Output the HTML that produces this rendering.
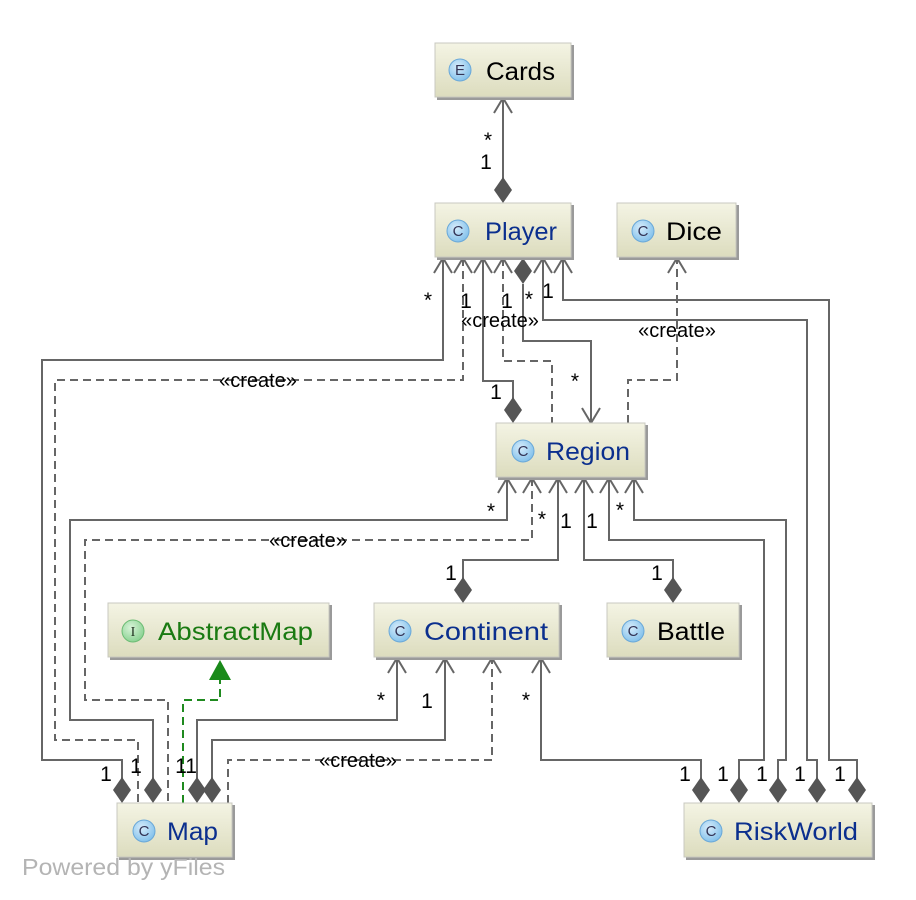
<!DOCTYPE html>
<html><head><meta charset="utf-8"><style>
html,body{margin:0;padding:0;background:#fff;}
svg{display:block;}
.t{font-family:"Liberation Sans",sans-serif;}
</style></head><body>
<svg width="916" height="900" viewBox="0 0 916 900" xmlns="http://www.w3.org/2000/svg">
<defs>
<linearGradient id="g" x1="0" y1="0" x2="0" y2="1">
<stop offset="0" stop-color="#f4f4e4"/><stop offset="1" stop-color="#dcdcbe"/></linearGradient>
<radialGradient id="ic" cx="0.4" cy="0.35" r="0.7"><stop offset="0" stop-color="#d6ecfb"/><stop offset="1" stop-color="#7fbfea"/></radialGradient>
<radialGradient id="ig" cx="0.4" cy="0.35" r="0.7"><stop offset="0" stop-color="#d8f3d8"/><stop offset="1" stop-color="#86d08e"/></radialGradient>
</defs>

<g fill="none" stroke="#666" stroke-width="2">
<path d="M503 98 V190"/>
<path d="M443 258 V360 H42 V760 H122 V790"/>
<path d="M483 258 V381 H513 V410"/>
<path d="M523 284 V341 H591 V423"/>
<path d="M543 258 V320 H807 V760 H817 V790"/>
<path d="M563 258 V300 H829 V760 H857 V790"/>
<path d="M507 478 V520 H70 V720 H153 V790"/>
<path d="M558 478 V560 H463 V590"/>
<path d="M584 478 V560 H673 V590"/>
<path d="M609 478 V540 H764 V760 H739 V790"/>
<path d="M634 478 V520 H786 V760 H778 V790"/>
<path d="M197 790 V720 H397 V658"/>
<path d="M212 790 V740 H445 V658"/>
<path d="M541 658 V760 H701 V790"/>
</g>
<g fill="none" stroke="#666" stroke-width="2" stroke-dasharray="8,5">
<path d="M463 258 V380 H55 V740 H138 V803"/>
<path d="M503 258 V361 H552 V423"/>
<path d="M628 423 V380 H677 V258"/>
<path d="M532 478 V540 H85 V700 H168 V803"/>
<path d="M228 803 V760 H492 V658"/>
</g>
<path d="M183 803 V700 H220 V676" fill="none" stroke="#1f8a1f" stroke-width="2" stroke-dasharray="8,5"/>
<polygon points="209,680 220,660 231,680" fill="#1a8a1a"/>

<g fill="none" stroke="#666" stroke-width="2">
<polyline points="494,113 503,98 512,113"/>
<polyline points="434,273 443,258 452,273"/>
<polyline points="454,273 463,258 472,273"/>
<polyline points="474,273 483,258 492,273"/>
<polyline points="494,273 503,258 512,273"/>
<polyline points="534,273 543,258 552,273"/>
<polyline points="554,273 563,258 572,273"/>
<polyline points="668,273 677,258 686,273"/>
<polyline points="582,408 591,423 600,408"/>
<polyline points="498,493 507,478 516,493"/>
<polyline points="523,493 532,478 541,493"/>
<polyline points="549,493 558,478 567,493"/>
<polyline points="575,493 584,478 593,493"/>
<polyline points="600,493 609,478 618,493"/>
<polyline points="625,493 634,478 643,493"/>
<polyline points="388,673 397,658 406,673"/>
<polyline points="436,673 445,658 454,673"/>
<polyline points="483,673 492,658 501,673"/>
<polyline points="532,673 541,658 550,673"/>
</g>

<g fill="#555">
<polygon points="503,203 494,190 503,177 512,190"/>
<polygon points="523,258 532,271 523,284 514,271"/>
<polygon points="513,423 504,410 513,397 522,410"/>
<polygon points="463,603 454,590 463,577 472,590"/>
<polygon points="673,603 664,590 673,577 682,590"/>
<polygon points="122,803 113,790 122,777 131,790"/>
<polygon points="153,803 144,790 153,777 162,790"/>
<polygon points="197,803 188,790 197,777 206,790"/>
<polygon points="212,803 203,790 212,777 221,790"/>
<polygon points="701,803 692,790 701,777 710,790"/>
<polygon points="739,803 730,790 739,777 748,790"/>
<polygon points="778,803 769,790 778,777 787,790"/>
<polygon points="817,803 808,790 817,777 826,790"/>
<polygon points="857,803 848,790 857,777 866,790"/>
</g>

<g class="t">
<g>
<rect x="437" y="45" width="137" height="55" fill="#9a9a9a"/>
<rect x="435" y="43" width="136" height="54" fill="url(#g)" stroke="#c8c8c0" stroke-width="1"/>
<circle cx="460" cy="70" r="11" fill="url(#ic)" stroke="#6aa8d8"/>
<text x="460" y="75" font-size="15" text-anchor="middle" fill="#335">E</text>
<text x="486" y="80" font-size="25" fill="#000" textLength="69" lengthAdjust="spacingAndGlyphs">Cards</text>
</g>
<g>
<rect x="437" y="205" width="137" height="55" fill="#9a9a9a"/>
<rect x="435" y="203" width="136" height="54" fill="url(#g)" stroke="#c8c8c0" stroke-width="1"/>
<circle cx="458" cy="231" r="11" fill="url(#ic)" stroke="#6aa8d8"/>
<text x="458" y="236" font-size="15" text-anchor="middle" fill="#335">C</text>
<text x="485" y="240" font-size="25" fill="#0b2f8e" textLength="72" lengthAdjust="spacingAndGlyphs">Player</text>
</g>
<g>
<rect x="619" y="205" width="120" height="55" fill="#9a9a9a"/>
<rect x="617" y="203" width="119" height="54" fill="url(#g)" stroke="#c8c8c0" stroke-width="1"/>
<circle cx="643" cy="231" r="11" fill="url(#ic)" stroke="#6aa8d8"/>
<text x="643" y="236" font-size="15" text-anchor="middle" fill="#335">C</text>
<text x="666" y="240" font-size="25" fill="#000" textLength="56" lengthAdjust="spacingAndGlyphs">Dice</text>
</g>
<g>
<rect x="498" y="425" width="150" height="55" fill="#9a9a9a"/>
<rect x="496" y="423" width="149" height="54" fill="url(#g)" stroke="#c8c8c0" stroke-width="1"/>
<circle cx="523" cy="451" r="11" fill="url(#ic)" stroke="#6aa8d8"/>
<text x="523" y="456" font-size="15" text-anchor="middle" fill="#335">C</text>
<text x="546" y="460" font-size="25" fill="#0b2f8e" textLength="84" lengthAdjust="spacingAndGlyphs">Region</text>
</g>
<g>
<rect x="110" y="605" width="222" height="55" fill="#9a9a9a"/>
<rect x="108" y="603" width="221" height="54" fill="url(#g)" stroke="#c8c8c0" stroke-width="1"/>
<circle cx="133" cy="631" r="11" fill="url(#ig)" stroke="#6cbc74"/>
<text x="133" y="636" font-size="14" text-anchor="middle" fill="#232" font-family="Liberation Serif, serif">I</text>
<text x="158" y="640" font-size="25" fill="#1a7a12" textLength="155" lengthAdjust="spacingAndGlyphs">AbstractMap</text>
</g>
<g>
<rect x="376" y="605" width="186" height="55" fill="#9a9a9a"/>
<rect x="374" y="603" width="185" height="54" fill="url(#g)" stroke="#c8c8c0" stroke-width="1"/>
<circle cx="400" cy="631" r="11" fill="url(#ic)" stroke="#6aa8d8"/>
<text x="400" y="636" font-size="15" text-anchor="middle" fill="#335">C</text>
<text x="424" y="640" font-size="25" fill="#0b2f8e" textLength="124" lengthAdjust="spacingAndGlyphs">Continent</text>
</g>
<g>
<rect x="609" y="605" width="133" height="55" fill="#9a9a9a"/>
<rect x="607" y="603" width="132" height="54" fill="url(#g)" stroke="#c8c8c0" stroke-width="1"/>
<circle cx="633" cy="631" r="11" fill="url(#ic)" stroke="#6aa8d8"/>
<text x="633" y="636" font-size="15" text-anchor="middle" fill="#335">C</text>
<text x="657" y="640" font-size="25" fill="#000" textLength="68" lengthAdjust="spacingAndGlyphs">Battle</text>
</g>
<g>
<rect x="119" y="805" width="116" height="55" fill="#9a9a9a"/>
<rect x="117" y="803" width="115" height="54" fill="url(#g)" stroke="#c8c8c0" stroke-width="1"/>
<circle cx="144" cy="831" r="11" fill="url(#ic)" stroke="#6aa8d8"/>
<text x="144" y="836" font-size="15" text-anchor="middle" fill="#335">C</text>
<text x="167" y="840" font-size="25" fill="#0b2f8e" textLength="51" lengthAdjust="spacingAndGlyphs">Map</text>
</g>
<g>
<rect x="686" y="805" width="189" height="55" fill="#9a9a9a"/>
<rect x="684" y="803" width="188" height="54" fill="url(#g)" stroke="#c8c8c0" stroke-width="1"/>
<circle cx="711" cy="831" r="11" fill="url(#ic)" stroke="#6aa8d8"/>
<text x="711" y="836" font-size="15" text-anchor="middle" fill="#335">C</text>
<text x="734" y="840" font-size="25" fill="#0b2f8e" textLength="124" lengthAdjust="spacingAndGlyphs">RiskWorld</text>
</g>
</g>

<g class="t" font-size="21" fill="#000" text-anchor="middle">
<text x="488" y="147">*</text><text x="486" y="169">1</text>
<text x="428" y="307">*</text><text x="466" y="308">1</text><text x="507" y="308">1</text>
<text x="529" y="306">*</text><text x="548" y="298">1</text>
<text x="496" y="399">1</text><text x="575" y="388">*</text>
<text x="491" y="518">*</text><text x="542" y="526">*</text>
<text x="566" y="528">1</text><text x="592" y="528">1</text><text x="620" y="517">*</text>
<text x="451" y="580">1</text><text x="657" y="580">1</text>
<text x="381" y="707">*</text><text x="427" y="708">1</text><text x="526" y="707">*</text>
<text x="106" y="781">1</text><text x="136" y="773">1</text><text x="186" y="773">11</text>
<text x="685" y="781">1</text><text x="723" y="781">1</text><text x="762" y="781">1</text>
<text x="800" y="781">1</text><text x="840" y="781">1</text>
</g>
<g class="t" font-size="20" fill="#000" text-anchor="middle">
<text x="500" y="327">«create»</text>
<text x="677" y="337">«create»</text>
<text x="258" y="387">«create»</text>
<text x="308" y="547">«create»</text>
<text x="358" y="767">«create»</text>
</g>
<text class="t" x="22" y="875" font-size="23" fill="#b4b4b4" textLength="203" lengthAdjust="spacingAndGlyphs">Powered by yFiles</text>
</svg>
</body></html>
